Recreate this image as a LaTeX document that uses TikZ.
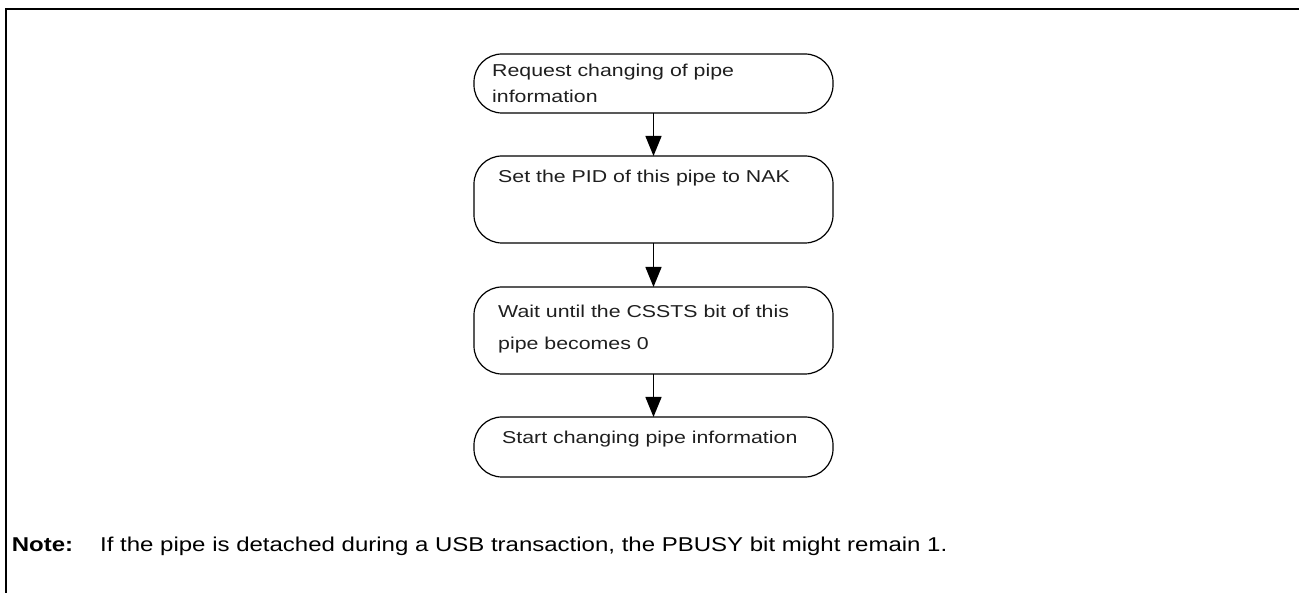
\documentclass[tikz,border=0pt]{standalone}
\usepackage{fontspec}
\setmainfont{Liberation Sans}
\usetikzlibrary{arrows.meta}
\tikzset{
  flowbox/.style={draw, line width=1.2pt, rounded corners=28pt, minimum width=359pt, inner sep=0pt, outer sep=0pt},
  boxtext/.style={anchor=base west, inner sep=0pt, font=\fontsize{17.2}{20}\selectfont, text=black!88},
  notetext/.style={anchor=base west, inner sep=0pt, font=\fontsize{20}{24}\selectfont},
  flowarrow/.style={line width=1.4pt, -{Triangle[length=20pt,width=16pt]}},
  frame/.style={line width=2pt}
}
\begin{document}
\begin{tikzpicture}[x=1pt,y=-1pt]
\useasboundingbox (0,0) rectangle (1299,593);
% frame
\coordinate (fl) at (6,593);
\coordinate (fc) at (6,9);
\coordinate (fr) at (1299,9);
\draw[frame] (fl) -- (fc) -- (fr);
% boxes
\node[flowbox, minimum height=59pt] (b1) at (653.5,83.5) {};
\node[flowbox, minimum height=87pt] (b2) at (653.5,199.5) {};
\node[flowbox, minimum height=87pt] (b3) at (653.5,330.5) {};
\node[flowbox, minimum height=60pt] (b4) at (653.5,447) {};
% texts
\node[boxtext] (t1a) at (492,77) {\scalebox{1.24}[1]{Request changing of pipe}};
\node[boxtext] (t1b) at (492,103) {\scalebox{1.24}[1]{information}};
\node[boxtext] (t2) at (498,183) {\scalebox{1.24}[1]{Set the PID of this pipe to NAK}};
\node[boxtext] (t3a) at (498,318) {\scalebox{1.24}[1]{Wait until the CSSTS bit of this}};
\node[boxtext] (t3b) at (498,350) {\scalebox{1.24}[1]{pipe becomes 0}};
\node[boxtext] (t4) at (502,443) {\scalebox{1.24}[1]{Start changing pipe information}};
% arrows
\draw[flowarrow] (b1.south) -- (b2.north);
\draw[flowarrow] (b2.south) -- (b3.north);
\draw[flowarrow] (b3.south) -- (b4.north);
% note
\node[notetext] (nl) at (11.7,551) {\scalebox{1.2}[1]{\bfseries Note:}};
\node[notetext] (nt) at (100,551) {\scalebox{1.2}[1]{If the pipe is detached during a USB transaction, the PBUSY bit might remain 1.}};
\end{tikzpicture}
\end{document}
